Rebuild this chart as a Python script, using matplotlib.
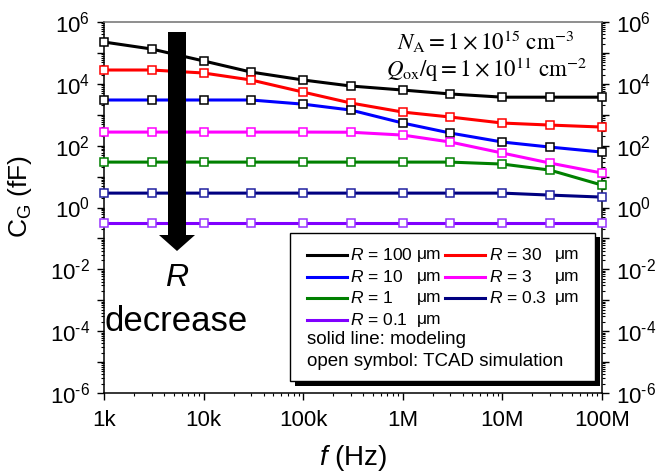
import numpy as np
import matplotlib
matplotlib.use("Agg")
import matplotlib.pyplot as plt
from matplotlib.transforms import Affine2D
from matplotlib.patches import Rectangle, Polygon
from matplotlib.lines import Line2D
from matplotlib.ticker import LogLocator, NullFormatter

plt.rcParams["font.family"] = ["Liberation Sans", "DejaVu Sans"]
plt.rcParams["mathtext.fontset"] = "custom"
plt.rcParams["mathtext.rm"] = "Liberation Sans"
plt.rcParams["mathtext.it"] = "Liberation Sans:italic"
plt.rcParams["mathtext.bf"] = "Liberation Sans:bold"

# Frequency sweep (Hz)
freq = [1e3, 3e3, 1e4, 3e4, 1e5, 3e5, 1e6, 3e6, 1e7, 3e7, 1e8]

# Gate capacitance C_G (fF) for each radius
cg_r100 = [2.25e5, 1.34e5, 5.5e4, 2.4e4, 1.33e4, 8.5e3, 6.3e3, 4.7e3, 3.7e3, 3.7e3, 3.7e3]
cg_r30 = [2.8e4, 2.8e4, 2.24e4, 1.33e4, 5.4e3, 2.4e3, 1.22e3, 843, 539, 464, 400]
cg_r10 = [3.0e3, 3.0e3, 3.0e3, 3.0e3, 2.2e3, 1.42e3, 539, 256, 131, 90, 62]
cg_r3 = [275, 275, 275, 275, 275, 272, 220, 131, 57.7, 27.4, 13]
cg_r1 = [29.4, 29.4, 29.4, 29.4, 29.4, 29.4, 29.4, 29.4, 25.4, 16.2, 5.3]
cg_r03 = [2.92, 2.92, 2.92, 2.92, 2.92, 2.92, 2.92, 2.92, 2.92, 2.52, 2.17]
cg_r01 = [0.31, 0.31, 0.31, 0.31, 0.31, 0.31, 0.31, 0.31, 0.31, 0.31, 0.31]

radius_labels = ["100", "30", "10", "3", "1", "0.3", "0.1"]
series = [cg_r100, cg_r30, cg_r10, cg_r3, cg_r1, cg_r03, cg_r01]
line_colors = ["#000000", "#FF0000", "#0000FF", "#FF00FF", "#008000", "#000080", "#8000FF"]
marker_colors = ["#000000", "#FF0000", "#000000", "#FF00FF", "#008000", "#2020A0", "#9933FF"]

x_tick_vals = [1e3, 1e4, 1e5, 1e6, 1e7, 1e8]
x_tick_labels = ["1k", "10k", "100k", "1M", "10M", "100M"]
y_exponents = list(range(-6, 7))


def decade_label(e):
    if e % 2:
        return ""
    if e < 0:
        return r"$10^{\text{-}%d}$" % (-e)
    return r"$10^{%d}$" % e


W, H = 657, 474
fig = plt.figure(figsize=(W / 100, H / 100), dpi=100)
ax = fig.add_axes([104 / W, 1 - 393 / H, 498 / W, 371 / H])

# pixel coordinates measured from the top-left corner of the figure
pix = Affine2D().scale(1 / W, -1 / H).translate(0, 1) + fig.transFigure

for vals, lc, mc in zip(series, line_colors, marker_colors):
    ax.plot(freq, vals, color=lc, lw=2.2, zorder=2, solid_joinstyle="round")
    ax.plot(freq, vals, ls="none", marker="s", ms=5.5, mfc="white",
            mec=mc, mew=1.1, zorder=3, clip_on=False)

ax.set_xscale("log")
ax.set_yscale("log")
ax.set_xlim(1e3, 1e8)
ax.set_ylim(1e-6, 1e6)

ax.set_xticks(x_tick_vals, labels=x_tick_labels)
ax.xaxis.set_minor_locator(LogLocator(base=10, subs=np.arange(2, 10), numticks=20))
ax.xaxis.set_minor_formatter(NullFormatter())
ax.set_yticks([10.0 ** e for e in y_exponents],
              labels=[decade_label(e) for e in y_exponents])
ax.yaxis.set_minor_locator(LogLocator(base=10, subs=np.arange(2, 10), numticks=20))
ax.yaxis.set_minor_formatter(NullFormatter())

ax.tick_params(axis="both", which="both", direction="out", labelsize=16, color="black")
ax.tick_params(axis="both", which="major", length=5, width=1, pad=5)
ax.tick_params(axis="x", which="major", pad=7)
ax.tick_params(axis="both", which="minor", length=2.5, width=0.8)
ax.tick_params(axis="y", which="both", left=True, right=True, labelleft=True, labelright=True)
ax.tick_params(axis="x", which="both", top=False)
for side in ["left", "right", "bottom"]:
    ax.spines[side].set_linewidth(1.1)
    ax.spines[side].set_color("black")
ax.spines["top"].set_color("#707070")
ax.spines["top"].set_linewidth(1.1)

ax.set_xlabel(r"$f$ (Hz)", fontsize=20, labelpad=9)
ax.set_ylabel(r"$\mathrm{C}_{\mathrm{G}}$ (fF)", fontsize=19)
ax.yaxis.set_label_coords(-0.14, 0.53)

# Device parameters
fig.text(486, 42, r"$N_{\mathrm{A}} = 1\times10^{15}\ \mathrm{cm}^{-3}$", transform=pix,
         ha="center", va="center", fontsize=16.5, math_fontfamily="stix")
fig.text(486, 70, r"$Q_{\mathrm{ox}}/\mathrm{q} = 1\times10^{11}\ \mathrm{cm}^{-2}$", transform=pix,
         ha="center", va="center", fontsize=16.5, math_fontfamily="stix")

# Arrow indicating decreasing radius
arrow_pts = [(168, 32), (186, 32), (186, 235), (195, 235), (177, 251), (159, 235), (168, 235)]
fig.add_artist(Polygon(arrow_pts, closed=True, facecolor="black", edgecolor="none",
                       transform=pix, zorder=4))
fig.text(177, 278, "R", transform=pix, ha="center", va="center", fontsize=23, style="italic")
fig.text(176, 322, "decrease", transform=pix, ha="center", va="center", fontsize=25)

# Legend box with drop shadow
fig.add_artist(Rectangle((295, 237), 305, 149, transform=pix, facecolor="black",
                         edgecolor="none", zorder=5))
fig.add_artist(Rectangle((290, 233), 305, 148, transform=pix, facecolor="white",
                         edgecolor="black", lw=1.0, zorder=6))

row_y = [255, 277, 298, 320]
col_line = [(307, 347), (445, 485)]
col_text = [350, 489]
col_unit = [417, 555]
for i, (lab, lc) in enumerate(zip(radius_labels, line_colors)):
    r, c = divmod(i, 2)
    y = row_y[r]
    fig.add_artist(Line2D(col_line[c], [y, y], color=lc, lw=2.2, transform=pix, zorder=7))
    fig.text(col_text[c], y, r"$R$ = " + lab, transform=pix, ha="left", va="center",
             fontsize=12.5, zorder=7)
    fig.text(col_unit[c], y, "μm", transform=pix, ha="left", va="center",
             fontsize=12.5, zorder=7)
fig.text(307, 340, "solid line: modeling", transform=pix, ha="left", va="center",
         fontsize=13.5, zorder=7)
fig.text(307, 362, "open symbol: TCAD simulation", transform=pix, ha="left", va="center",
         fontsize=13.5, zorder=7)

fig.savefig("out.png", dpi=100)
